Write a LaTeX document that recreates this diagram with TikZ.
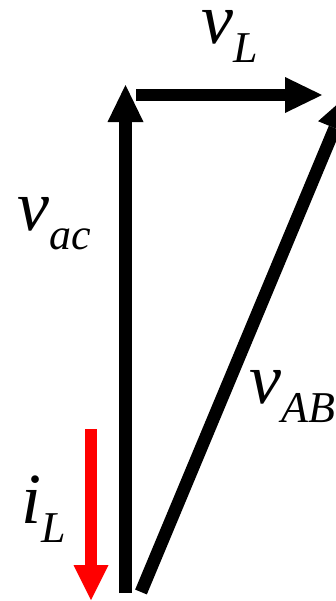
\documentclass[tikz,border=0pt]{standalone}
\usepackage{fontspec}
\setmainfont{Liberation Serif}
\usetikzlibrary{arrows.meta}
\definecolor{currentred}{RGB}{255,0,0}
\newcommand{\phlabel}[2]{%
  {\fontsize{54}{54}\selectfont\itshape #1}%
  \raisebox{-14.25pt}{\fontsize{33}{33}\selectfont\itshape #2}}
\tikzset{
    % phasor arrows (thick, filled triangular heads)
    phasor/.style={line width=9.5pt, black,
        -{Triangle[length=27.75pt, width=27pt, line width=0pt]}},
    vacphasor/.style={phasor, line width=9.75pt},
    vlphasor/.style={phasor, line width=9pt},
    currentarrow/.style={line width=9pt, currentred,
        -{Triangle[length=26.25pt, width=26.25pt, line width=0pt]}},
    % labels
    plabel/.style={anchor=base west, inner sep=0pt},
}
\begin{document}
\begin{tikzpicture}[x=0.75pt, y=-0.75pt]
  \useasboundingbox (0,0) rectangle (336,601);
  \clip (0,0) rectangle (336,601);
  % end points
  \coordinate (acstart) at (125.5,593);
  \coordinate (acend) at (125.5,85);
  \coordinate (lstart) at (136,95);
  \coordinate (lend) at (322,95);
  \coordinate (abstart) at (141,592);
  \coordinate (abend) at (349,94);
  \coordinate (istart) at (91,429);
  \coordinate (iend) at (91,600);

  % phasors
  \draw[vacphasor] (acstart) -- (acend);
  \draw[vlphasor] (lstart) -- (lend);
  \draw[phasor] (abstart) -- (abend);
  \draw[currentarrow] (istart) -- (iend);

  % labels
  \node[plabel] (vl) at (201,43) {\phlabel{v}{L}};
  \node[plabel] (vac) at (17,230) {\phlabel{v}{ac}};
  \node[plabel] (vab) at (249,403) {\phlabel{v}{AB}};
  \node[plabel] (il) at (21,523) {\phlabel{i}{L}};
\end{tikzpicture}
\end{document}
